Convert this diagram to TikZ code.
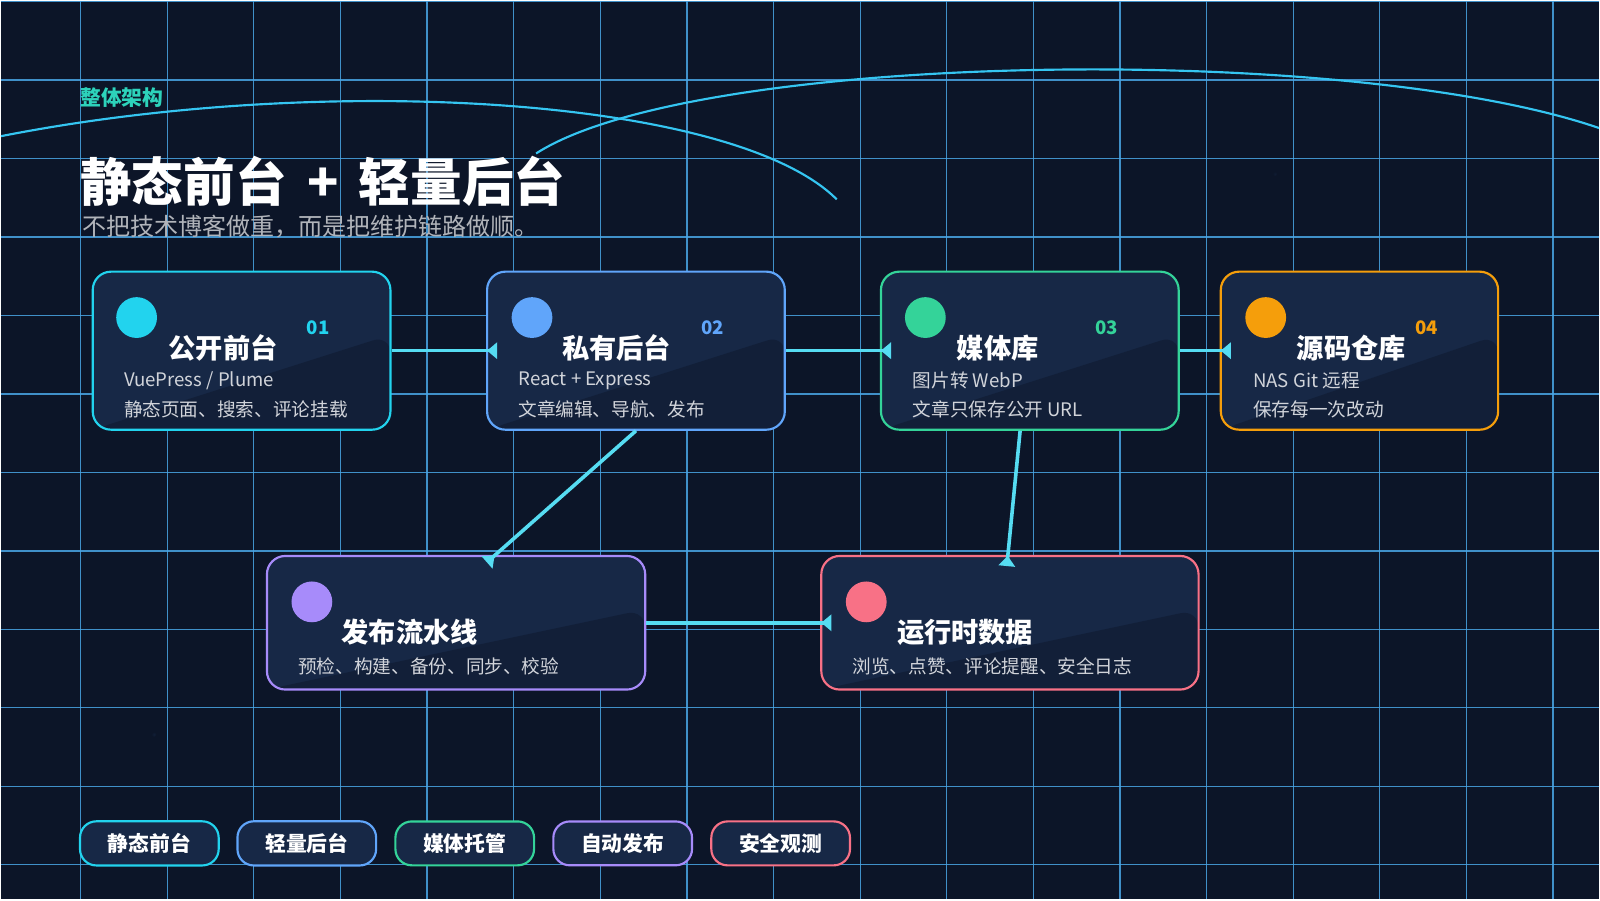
\documentclass[tikz,border=0pt]{standalone}
\usepackage{fontspec}
\setmainfont{Noto Sans CJK SC}
\usetikzlibrary{arrows.meta,calc}
\definecolor{bg}{HTML}{0C1528}
\definecolor{cardfill}{HTML}{172846}
\definecolor{gridc}{HTML}{4AA6E6}
\definecolor{flow}{HTML}{56DCF2}
\definecolor{ccyan}{HTML}{22D3EE}
\definecolor{cblue}{HTML}{60A5FA}
\definecolor{cgreen}{HTML}{34D399}
\definecolor{corange}{HTML}{F59E0B}
\definecolor{cpurple}{HTML}{A78BFA}
\definecolor{cpink}{HTML}{F87186}
\begin{document}
\begin{tikzpicture}[x=0.01cm, y=-0.01cm]
	\tikzset{card/.style={draw=#1, line width=0.6pt, fill=cardfill, rounded corners=0.18cm, minimum width=2.92cm, minimum height=1.55cm,
			path picture={\fill[bg, opacity=0.45] ($(path picture bounding box.south west)+(0,-0.1)$) -- ($(path picture bounding box.south east)!0.6!(path picture bounding box.north east)$) -- (path picture bounding box.south east) -- cycle;}},
		dot/.style={circle, fill=#1, minimum size=0.4cm, inner sep=0pt},
		num/.style={text=#1, font=\fontsize{5.2pt}{6pt}\selectfont\bfseries},
		ttl/.style={text=white, font=\fontsize{7.6pt}{9pt}\selectfont\bfseries},
		sub/.style={text=white!80!cardfill, anchor=west, inner sep=0pt, font=\fontsize{5.2pt}{6pt}\selectfont},
		tag/.style={draw=#1, line width=0.6pt, fill=cardfill, rounded corners=0.16cm, minimum width=1.36cm, minimum height=0.43cm, text=white, font=\fontsize{5.8pt}{7pt}\selectfont\bfseries},
		f/.style={draw=flow, line width=1pt, -{Triangle[reversed, length=0.1cm, width=0.16cm]}, shorten >=-0.11cm}};

	% background and grid
	\fill[bg] (0,0) rectangle (1568,882);
	\shade[inner color=cardfill!70!bg, outer color=bg, opacity=0.7] (150,720) circle (2.6);
	\shade[inner color=cardfill!60!bg, outer color=bg, opacity=0.6] (1250,170) circle (2.4);
	\foreach \gx in {78,163,...,1568} \draw[gridc, opacity=0.85, line width=0.35pt] (\gx,0) -- (\gx,882);
	\foreach \gy in {1,78,...,882} \draw[gridc, opacity=0.85, line width=0.35pt] (0,\gy) -- (1568,\gy);
	\draw[ccyan!70!cblue, line width=0.6pt] (0,133) .. controls (320,70) and (720,95) .. (820,195);
	\draw[ccyan!70!cblue, line width=0.6pt] (525,150) .. controls (680,50) and (1320,40) .. (1568,125);

	% heading
	\node[anchor=west, inner sep=0pt, text=cgreen!60!ccyan, font=\fontsize{5.8pt}{7pt}\selectfont\bfseries] (kicker) at (77,95) {整体架构};
	\node[anchor=west, inner sep=0pt, text=white, font=\fontsize{14.4pt}{17pt}\selectfont\bfseries] (title) at (77,177) {静态前台\,\ +\ \,轻量后台};
	\node[anchor=west, inner sep=0pt, text=white!68!bg, font=\fontsize{6.7pt}{8pt}\selectfont] (lead) at (79,222) {不把技术博客做重，而是把维护链路做顺。};

	% cards
	\node[card=ccyan] (front) at (236,343.5) {};
	\node[card=cblue] (admin) at (623,343.5) {};
	\node[card=cgreen] (media) at (1009.5,343.5) {};
	\node[card=corange, minimum width=2.72cm] (repo) at (1333,343.5) {};
	\node[card=cpurple, minimum width=3.71cm, minimum height=1.31cm] (pipe) at (446.5,610.5) {};
	\node[card=cpink, minimum width=3.7cm, minimum height=1.31cm] (runtime) at (990,610.5) {};

	\node[dot=ccyan] (d1) at (133,311) {};
	\node[num=ccyan] (n1) at (311,321) {01};
	\node[ttl] (t1) at (218,341) {公开前台};
	\node[sub] (a1) at (120,373) {VuePress / Plume};
	\node[sub] (b1) at (120,401) {静态页面、搜索、评论挂载};

	\node[dot=cblue] (d2) at (521,311) {};
	\node[num=cblue] (n2) at (698,321) {02};
	\node[ttl] (t2) at (604,341) {私有后台};
	\node[sub] (a2) at (507,373) {React + Express};
	\node[sub] (b2) at (507,401) {文章编辑、导航、发布};

	\node[dot=cgreen] (d3) at (907,311) {};
	\node[num=cgreen] (n3) at (1085,321) {03};
	\node[ttl] (t3) at (978,341) {媒体库};
	\node[sub] (a3) at (894,373) {图片转 WebP};
	\node[sub] (b3) at (894,401) {文章只保存公开 URL};

	\node[dot=corange] (d4) at (1241,311) {};
	\node[num=corange] (n4) at (1399,321) {04};
	\node[ttl] (t4) at (1325,341) {源码仓库};
	\node[sub] (a4) at (1228,373) {NAS Git 远程};
	\node[sub] (b4) at (1228,401) {保存每一次改动};

	\node[dot=cpurple] (d5) at (305,590) {};
	\node[ttl] (t5) at (401,620) {发布流水线};
	\node[sub] (a5) at (291,653) {预检、构建、备份、同步、校验};

	\node[dot=cpink] (d6) at (849,590) {};
	\node[ttl] (t6) at (946,620) {运行时数据};
	\node[sub] (a6) at (835,653) {浏览、点赞、评论提醒、安全日志};

	% flows
	\draw[f] (front.east) -- (admin.west);
	\draw[f] (admin.east) -- (media.west);
	\draw[f] (media.east) -- (repo.west);
	\draw[f] (admin.south) -- (pipe.north -| 485,0);
	\draw[f] (media.south -| 1000,0) -- (runtime.north -| 988,0);
	\draw[f] (pipe.east) -- (runtime.west);

	% tags
	\node[tag=ccyan] (g1) at (145.5,827) {静态前台};
	\node[tag=cblue] (g2) at (300,827) {轻量后台};
	\node[tag=cgreen] (g3) at (455,827) {媒体托管};
	\node[tag=cpurple] (g4) at (610,827) {自动发布};
	\node[tag=cpink] (g5) at (765,827) {安全观测};
\end{tikzpicture}
\end{document}
